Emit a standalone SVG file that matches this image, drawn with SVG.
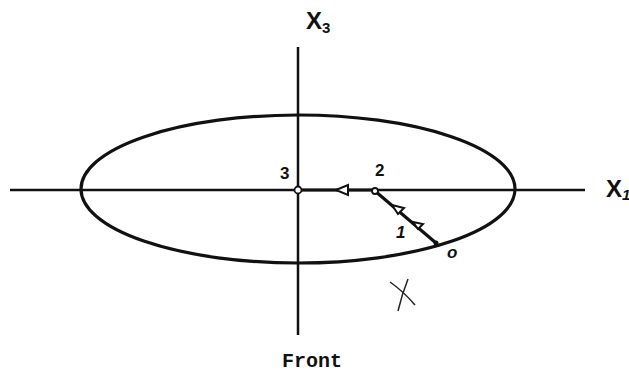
<svg xmlns="http://www.w3.org/2000/svg" width="629" height="373" viewBox="0 0 629 373">
<defs>
<style>
.axis{stroke:#111;stroke-width:2.5;fill:none}
.curve{stroke:#111;stroke-width:3.2;fill:none}
.lbl{font-family:"Liberation Sans",Arial,sans-serif;font-weight:bold;fill:#111}
.hand{font-family:"Liberation Sans",Arial,sans-serif;font-style:italic;font-weight:bold;fill:#111}
.mono{font-family:"Liberation Mono","Courier New",monospace;font-weight:bold;fill:#111}
.arr{fill:#fff;stroke:#111;stroke-width:2}
</style>
</defs>
<rect width="629" height="373" fill="#fff"/>
<g id="axes">
<line class="axis" x1="10" y1="190" x2="585" y2="190"/>
<line class="axis" x1="298" y1="47" x2="298" y2="335"/>
</g>
<g id="ellipse">
<ellipse class="curve" cx="298" cy="189" rx="217" ry="74"/>
</g>
<g id="connectors">
<line class="curve" x1="436" y1="243" x2="375" y2="191"/>
<line class="curve" x1="375" y1="190" x2="298" y2="190"/>
<polygon class="arr" points="336,190 348,185 348,195"/>
<polygon class="arr" points="392,205 404,208 398,214"/>
<polygon class="arr" points="413,222 423,224 418,229"/>
</g>
<g id="node-3">
<circle cx="298" cy="190" r="3.5" fill="#fff" stroke="#111" stroke-width="1.8"/>
<text class="lbl" x="280" y="179" font-size="17">3</text>
</g>
<g id="node-2">
<circle cx="375" cy="191" r="3" fill="#fff" stroke="#111" stroke-width="1.8"/>
<text class="lbl" x="375" y="176" font-size="17">2</text>
</g>
<g id="node-1">
<text class="hand" x="396" y="238" font-size="17">1</text>
</g>
<g id="node-0">
<circle cx="436" cy="243" r="2.5" fill="#111"/>
<text class="hand" x="447" y="258" font-size="17">o</text>
</g>
<g id="labels">
<text class="lbl" x="306" y="29" font-size="24">X<tspan font-size="15" dy="4">3</tspan></text>
<text class="lbl" x="606" y="197" font-size="24">X<tspan class="hand" font-size="15" dy="3">1</tspan></text>
<text class="mono" x="282" y="367" font-size="20">Front</text>
</g>
<g id="mark">
<path d="M390 282 Q403 291 415 305" stroke="#222" stroke-width="1.5" fill="none"/>
<path d="M408 279 Q402 294 398 311" stroke="#222" stroke-width="1.5" fill="none"/>
</g>
</svg>
